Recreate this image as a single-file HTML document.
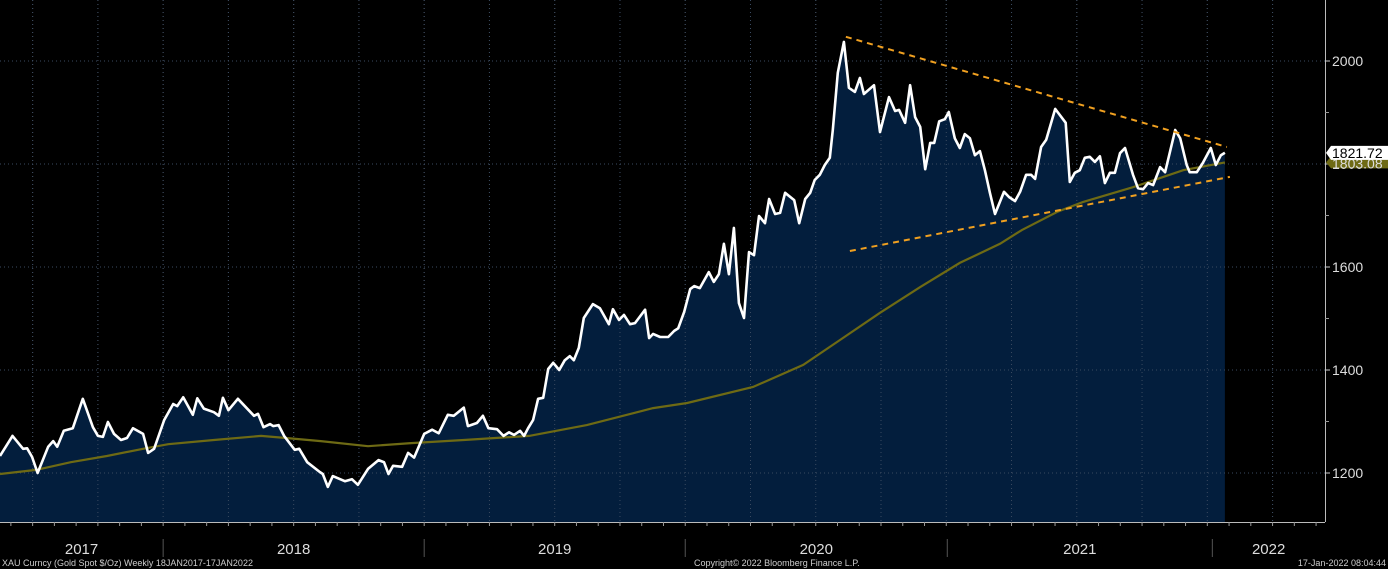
<!DOCTYPE html>
<html><head><meta charset="utf-8"><style>
html,body{margin:0;padding:0;background:#000;width:1388px;height:569px;overflow:hidden}
svg{display:block;font-family:"Liberation Sans",sans-serif}
</style></head><body>
<svg id="chart" width="1388" height="569" viewBox="0 0 1388 569" xmlns="http://www.w3.org/2000/svg">
<rect width="1388" height="569" fill="#000"/>
<g id="grid"></g>
<g id="series"></g>
<g id="axes"></g>
<text x="2" y="566" font-size="9" fill="#ccc">XAU Curncy (Gold Spot  $/Oz)  Weekly 18JAN2017-17JAN2022</text>
<text x="694" y="566" font-size="9" fill="#ccc">Copyright© 2022 Bloomberg Finance L.P.</text>
<text x="1386" y="566" font-size="9" fill="#ccc" text-anchor="end">17-Jan-2022 08:04:44</text>
</svg>
<script>
const weeks=[0,2.5,4.6,5.4,6.4,7.5,9.6,10.6,11.4,12.7,14.5,16.5,18.5,19.5,20.5,21.5,22.7,24.1,25.3,26.5,28.5,29.5,30.7,32.7,34.5,35.3,36.5,38.4,39.3,40.6,42.6,43.6,44.4,45.5,47.4,50.6,51.4,52.5,53.8,54.4,55.5,56.6,58.7,59.6,61.2,63.7,64.3,65.3,66.3,68.7,70.1,71.3,73.3,75.4,76.5,77.4,78.3,80.1,81.3,82.5,84.5,86.1,87.4,89.2,90.4,92.4,93.2,95.0,96.2,97.3,99.0,100.3,101.4,102.4,103.6,104.4,105.2,106.2,107.2,108.2,109.2,110.2,111.4,112.5,113.5,114.3,115.3,116.3,118.1,119.5,121.3,122.1,123.3,124.3,125.5,126.5,128.5,129.3,130.1,131.5,133.1,134.3,135.1,136.3,137.5,138.3,139.4,141.2,142.2,143.2,144.2,145.2,146.2,147.2,148.2,149.2,150.2,151.2,152.4,153.2,154.4,155.4,156.4,158.2,159.2,160.4,161.4,162.3,163.3,164.3,165.3,165.9,166.9,168.1,169.1,170.3,171.3,172.1,174.1,175.3,177.1,178.3,179.1,180.3,181.3,182.3,183.3,184.3,185.3,186.1,187.1,188.2,189.0,190.2,191.2,192.2,193.2,194.2,195.2,196.2,197.2,198.2,200.0,201.0,202.2,203.2,204.4,205.4,206.2,207.4,208.4,210.2,212.3,213.1,214.1,215.1,216.1,217.1,218.1,219.1,220.1,221.1,222.1,223.1,224.1,225.7,226.7,227.7,228.7,229.7,231.1,232.1,234.1,235.1,236.4,237.0,238.4,239.6,241.2,242.2,243.2,244.0];
const prices=[1233,1272,1247,1248,1231,1200,1251,1262,1251,1282,1287,1344,1289,1272,1270,1299,1276,1264,1268,1287,1276,1239,1247,1303,1334,1330,1347,1313,1345,1325,1318,1311,1346,1322,1344,1311,1315,1289,1295,1291,1293,1272,1245,1247,1221,1202,1198,1173,1194,1184,1188,1177,1208,1225,1221,1198,1214,1212,1239,1230,1276,1284,1277,1313,1311,1327,1291,1297,1311,1287,1285,1272,1279,1274,1282,1272,1287,1303,1344,1346,1402,1414,1400,1419,1427,1419,1443,1501,1528,1520,1489,1518,1497,1507,1489,1491,1517,1462,1470,1464,1464,1476,1481,1513,1557,1563,1559,1590,1571,1586,1645,1586,1676,1530,1501,1629,1623,1699,1685,1732,1703,1705,1744,1730,1685,1732,1744,1769,1779,1798,1812,1866,1977,2037,1948,1940,1967,1936,1953,1862,1930,1903,1905,1880,1953,1891,1872,1790,1841,1841,1883,1887,1901,1850,1831,1858,1850,1817,1825,1788,1744,1703,1746,1736,1728,1746,1779,1779,1771,1833,1847,1907,1880,1765,1783,1788,1812,1814,1804,1815,1763,1783,1783,1821,1831,1779,1753,1751,1763,1759,1794,1784,1866,1850,1798,1784,1784,1802,1831,1798,1817,1821.72];
const maWeeks=[0,7.2,14.1,21.3,28.5,33.5,42.6,52,57,63.9,73.3,81.9,92.4,105.4,116.9,130.1,136.9,150,160,167.3,175.3,183.3,191.2,199.2,203.6,210.6,215.7,225.7,235.7,244];
const maValues=[1198,1206,1221,1233,1247,1256,1264,1272,1268,1262,1252,1258,1264,1272,1293,1326,1336,1367,1410,1458,1511,1561,1608,1645,1672,1707,1726,1755,1788,1803.08];
const upperTrendWeeks=[168.5,244.4];
const upperTrendValues=[2047,1833];
const lowerTrendWeeks=[169.3,245];
const lowerTrendValues=[1631,1775];
const yTicks=[1200,1400,1600,1800,2000];
const yMinorTicks=[1300,1500,1700,1900];
const yearLabels=["2017","2018","2019","2020","2021","2022"];
const yearBoundaries=[32.5,84.5,136.5,188.7,241.5];
const lastPrice="1821.72";
const lastMA="1803.08";

const NS="http://www.w3.org/2000/svg";
const X0=0,PXW=5.02,PLOT_R=1325,PLOT_B=522;
function xs(w){return X0+w*PXW;}
function ys(p){return 61+(2000-p)*0.515;}
function mk(tag,attrs,parent){const e=document.createElementNS(NS,tag);for(const k in attrs)e.setAttribute(k,attrs[k]);parent.appendChild(e);return e;}
const grid=document.getElementById('grid'),series=document.getElementById('series'),axes=document.getElementById('axes');

// vertical quarter grid lines
for(let q=0;q<21;q++){
  const x=xs(32.5+(q-2)*13);
  if(x<0||x>PLOT_R)continue;
  const l=mk('line',{x1:x,x2:x,y1:0,y2:PLOT_B,stroke:'#555','stroke-width':1,'stroke-dasharray':'1,3'},grid);
  
  
}
yTicks.forEach(v=>{
  const l=mk('line',{x1:0,x2:PLOT_R,y1:ys(v),y2:ys(v),stroke:'#666','stroke-width':1,'stroke-dasharray':'1,3'},grid);
  
  
});

// area fill
let d='M'+xs(weeks[0])+','+PLOT_B;
weeks.forEach((w,i)=>{d+=' L'+xs(w).toFixed(1)+','+ys(prices[i]).toFixed(1);});
d+=' L'+xs(weeks[weeks.length-1])+','+PLOT_B+' Z';
const area=mk('path',{d:d,fill:'#031e3d'},series);


// redraw grid over fill faintly
for(let q=0;q<21;q++){
  const x=xs(32.5+(q-2)*13);
  if(x<0||x>PLOT_R)continue;
  const l=mk('line',{x1:x,x2:x,y1:0,y2:PLOT_B,stroke:'#3a4a60','stroke-width':1,'stroke-dasharray':'1,3'},series);
  
  
}
yTicks.forEach(v=>{
  const l=mk('line',{x1:0,x2:PLOT_R,y1:ys(v),y2:ys(v),stroke:'#3a4a60','stroke-width':1,'stroke-dasharray':'1,3'},series);
  
  
});

// moving average
const maPts=maWeeks.map((w,i)=>xs(w).toFixed(1)+','+ys(maValues[i]).toFixed(1)).join(' ');
const ma=mk('polyline',{points:maPts,fill:'none',stroke:'#6e6a14','stroke-width':2.2},series);



// price line
const pPts=weeks.map((w,i)=>xs(w).toFixed(1)+','+ys(prices[i]).toFixed(1)).join(' ');
const pl=mk('polyline',{points:pPts,fill:'none',stroke:'#fff','stroke-width':2.6,'stroke-linejoin':'round'},series);



// trend lines
const ut=mk('line',{x1:xs(upperTrendWeeks[0]),y1:ys(upperTrendValues[0]),x2:xs(upperTrendWeeks[1]),y2:ys(upperTrendValues[1]),stroke:'#f0a020','stroke-width':2,'stroke-dasharray':'6,5'},series);


const lt=mk('line',{x1:xs(lowerTrendWeeks[0]),y1:ys(lowerTrendValues[0]),x2:xs(lowerTrendWeeks[1]),y2:ys(lowerTrendValues[1]),stroke:'#f0a020','stroke-width':2,'stroke-dasharray':'6,5'},series);



// axes
const ra=mk('line',{x1:PLOT_R+0.5,x2:PLOT_R+0.5,y1:0,y2:PLOT_B,stroke:'#bbb','stroke-width':1},axes);


const ba=mk('line',{x1:0,x2:PLOT_R,y1:PLOT_B+0.5,y2:PLOT_B+0.5,stroke:'#bbb','stroke-width':1},axes);


yTicks.forEach(v=>{
  const t=mk('line',{x1:PLOT_R,x2:PLOT_R+5,y1:ys(v),y2:ys(v),stroke:'#ccc'},axes);
  
  
  const tx=mk('text',{x:PLOT_R+7,y:ys(v)+5,'font-size':14,fill:'#ddd'},axes);
  tx.textContent=v;
  
  
});
yMinorTicks.forEach(v=>{
  const t=mk('line',{x1:PLOT_R,x2:PLOT_R+4,y1:ys(v),y2:ys(v),stroke:'#999'},axes);
  
  
});
// x ticks monthly
for(let m=-30;m<80;m++){
  const x=xs(32.5+m*52/12);
  if(x<0||x>PLOT_R)continue;
  const t=mk('line',{x1:x,x2:x,y1:PLOT_B,y2:PLOT_B+4,stroke:'#999'},axes);
  
  
}
yearBoundaries.forEach(w=>{
  const t=mk('line',{x1:xs(w),x2:xs(w),y1:539,y2:557,stroke:'#555'},axes);
  
  
});
yearLabels.forEach((lab,i)=>{
  const a=i===0?0:xs(yearBoundaries[i-1]);
  const b=i<yearBoundaries.length?xs(yearBoundaries[i]):PLOT_R;
  const tx=mk('text',{x:(a+b)/2,y:554,'font-size':15,fill:'#ddd','text-anchor':'middle'},axes);
  tx.textContent=lab;
  
  
});
// last value tags
const my=ys(maValues[maValues.length-1]);
const mtag=mk('path',{d:`M${PLOT_R+1},${my} L${PLOT_R+6},${my-6} L1388,${my-6} L1388,${my+6} L${PLOT_R+6},${my+6} Z`,fill:'#6e6a14'},axes);


const mt=mk('text',{x:PLOT_R+7,y:my+6,'font-size':14,fill:'#ddd'},axes);
mt.textContent=lastMA;


const py=ys(prices[prices.length-1]);
const ptag=mk('path',{d:`M${PLOT_R+1},${py} L${PLOT_R+6},${py-7} L1388,${py-7} L1388,${py+7} L${PLOT_R+6},${py+7} Z`,fill:'#fff'},axes);


const pt=mk('text',{x:PLOT_R+7,y:py+5,'font-size':14,fill:'#000'},axes);
pt.textContent=lastPrice;


</script>
</body></html>
